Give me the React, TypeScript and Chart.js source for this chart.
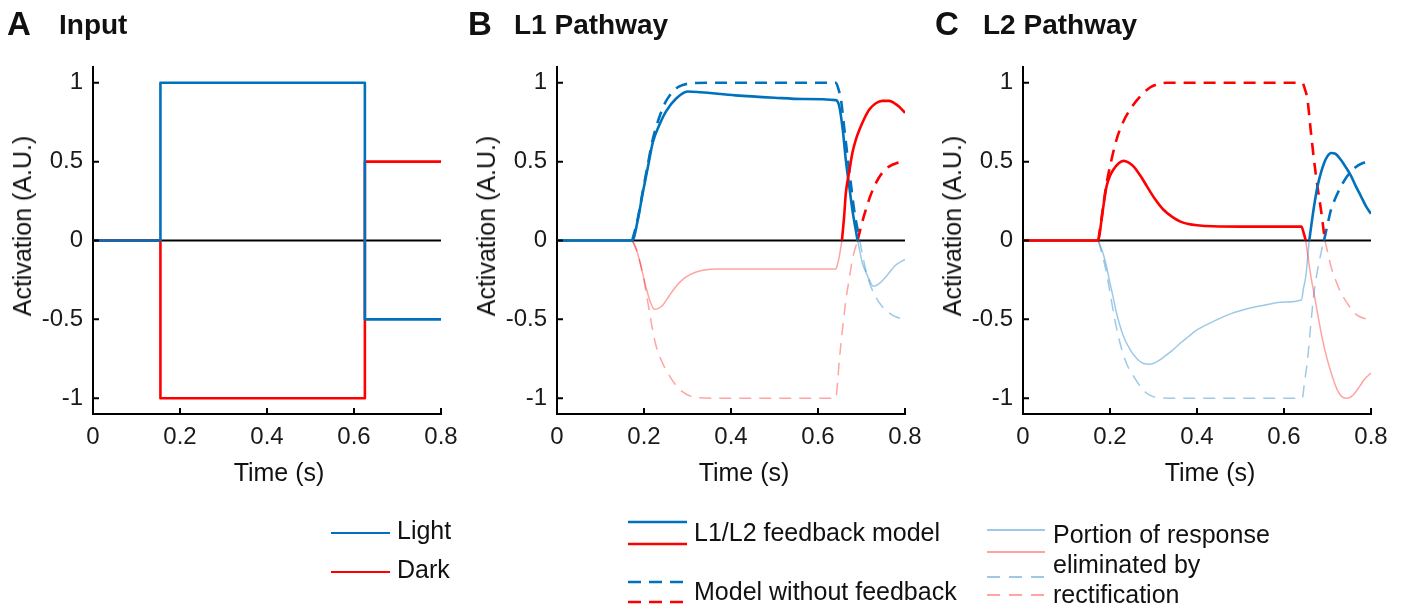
import React, { useEffect, useRef } from "react";
import { Chart, registerables } from "chart.js";

Chart.register(...registerables);

type Pt = [number, number];

// ---------- shared axes ----------
const X_TICKS = [0, 0.2, 0.4, 0.6, 0.8];
const Y_TICKS = [-1, -0.5, 0, 0.5, 1];
const X_MIN = 0;
const X_MAX = 0.8;
const Y_MIN = -1.1;
const Y_MAX = 1.1;
const ZERO_LINE: Pt[] = [[0, 0], [0.8, 0]];

// ---------- Panel A: Input ----------
const inputLight: Pt[] = [[0, 0], [0.155, 0], [0.155, 1], [0.625, 1], [0.625, -0.5], [0.8, -0.5]];
const inputDark: Pt[] = [[0, 0], [0.155, 0], [0.155, -1], [0.625, -1], [0.625, 0.5], [0.8, 0.5]];

// ---------- Panel B: L1 pathway ----------
const l1LightFb: Pt[] = [[0, 0], [0.173, 0], [0.185, 0.12], [0.197, 0.3], [0.21, 0.48], [0.22, 0.62], [0.235, 0.73], [0.251, 0.82], [0.274, 0.9], [0.3, 0.945], [0.33, 0.94], [0.41, 0.92], [0.5, 0.905], [0.565, 0.897], [0.641, 0.89], [0.649, 0.85], [0.657, 0.7], [0.664, 0.51], [0.672, 0.34], [0.679, 0.195], [0.691, 0]];
const l1LightFbCut: Pt[] = [[0.691, 0], [0.697, -0.08], [0.702, -0.144], [0.71, -0.2], [0.718, -0.25], [0.727, -0.29], [0.74, -0.275], [0.756, -0.23], [0.779, -0.155], [0.8, -0.12]];
const l1LightNoFb: Pt[] = [[0.173, 0], [0.185, 0.13], [0.197, 0.31], [0.21, 0.5], [0.22, 0.64], [0.235, 0.78], [0.25, 0.88], [0.265, 0.94], [0.28, 0.975], [0.304, 0.995], [0.35, 1], [0.641, 1], [0.647, 0.96], [0.653, 0.89], [0.66, 0.72], [0.668, 0.53], [0.676, 0.35], [0.683, 0.195], [0.696, 0]];
const l1LightNoFbCut: Pt[] = [[0.696, 0], [0.703, -0.1], [0.71, -0.19], [0.72, -0.28], [0.733, -0.36], [0.748, -0.42], [0.764, -0.46], [0.78, -0.485], [0.8, -0.5]];
const l1DarkFbCut: Pt[] = [[0.173, 0], [0.182, -0.05], [0.19, -0.13], [0.197, -0.21], [0.205, -0.3], [0.213, -0.377], [0.224, -0.436], [0.233, -0.43], [0.243, -0.41], [0.258, -0.35], [0.274, -0.29], [0.29, -0.245], [0.304, -0.22], [0.32, -0.2], [0.335, -0.188], [0.373, -0.18], [0.641, -0.18], [0.645, -0.15], [0.649, -0.1], [0.655, 0]];
const l1DarkFb: Pt[] = [[0.655, 0], [0.66, 0.15], [0.664, 0.3], [0.672, 0.44], [0.679, 0.555], [0.687, 0.64], [0.695, 0.7], [0.706, 0.77], [0.718, 0.83], [0.733, 0.87], [0.748, 0.885], [0.764, 0.885], [0.776, 0.87], [0.786, 0.85], [0.8, 0.81]];
const l1DarkNoFbCut: Pt[] = [[0.173, 0], [0.185, -0.08], [0.197, -0.21], [0.205, -0.33], [0.213, -0.46], [0.22, -0.57], [0.228, -0.67], [0.243, -0.78], [0.259, -0.86], [0.274, -0.92], [0.289, -0.96], [0.305, -0.985], [0.32, -0.995], [0.36, -1], [0.641, -1], [0.645, -0.9], [0.649, -0.76], [0.656, -0.57], [0.664, -0.38], [0.672, -0.24], [0.679, -0.12], [0.691, 0]];
const l1DarkNoFb: Pt[] = [[0.691, 0], [0.7, 0.1], [0.71, 0.195], [0.72, 0.28], [0.733, 0.364], [0.748, 0.43], [0.764, 0.47], [0.78, 0.49], [0.8, 0.5]];

// ---------- Panel C: L2 pathway ----------
const l2DarkFb: Pt[] = [[0, 0], [0.173, 0], [0.18, 0.12], [0.186, 0.24], [0.192, 0.343], [0.2, 0.41], [0.208, 0.45], [0.22, 0.49], [0.231, 0.505], [0.242, 0.495], [0.254, 0.47], [0.27, 0.41], [0.285, 0.343], [0.303, 0.265], [0.323, 0.195], [0.343, 0.15], [0.362, 0.12], [0.38, 0.105], [0.4, 0.097], [0.438, 0.09], [0.5, 0.088], [0.64, 0.088], [0.645, 0.05], [0.65, 0]];
const l2DarkFbCut: Pt[] = [[0.65, 0], [0.656, -0.12], [0.662, -0.23], [0.67, -0.35], [0.677, -0.46], [0.688, -0.62], [0.7, -0.76], [0.712, -0.87], [0.723, -0.95], [0.733, -0.99], [0.742, -1.0], [0.752, -0.995], [0.762, -0.97], [0.775, -0.92], [0.785, -0.88], [0.8, -0.84]];
const l2DarkNoFb: Pt[] = [[0.173, 0], [0.18, 0.13], [0.186, 0.25], [0.192, 0.36], [0.2, 0.47], [0.215, 0.64], [0.23, 0.75], [0.246, 0.83], [0.262, 0.89], [0.277, 0.935], [0.292, 0.97], [0.308, 0.99], [0.33, 1], [0.642, 1], [0.648, 0.96], [0.654, 0.893], [0.661, 0.71], [0.669, 0.51], [0.677, 0.34], [0.685, 0.195], [0.694, 0]];
const l2DarkNoFbCut: Pt[] = [[0.694, 0], [0.7, -0.07], [0.708, -0.165], [0.72, -0.26], [0.731, -0.334], [0.746, -0.4], [0.762, -0.46], [0.78, -0.49], [0.8, -0.5]];
const l2LightFbCut: Pt[] = [[0.173, 0], [0.18, -0.05], [0.186, -0.1], [0.192, -0.165], [0.2, -0.27], [0.208, -0.37], [0.215, -0.46], [0.23, -0.6], [0.246, -0.69], [0.262, -0.75], [0.277, -0.78], [0.292, -0.785], [0.307, -0.77], [0.323, -0.74], [0.342, -0.7], [0.362, -0.65], [0.38, -0.61], [0.4, -0.567], [0.44, -0.51], [0.477, -0.465], [0.52, -0.43], [0.554, -0.41], [0.6, -0.39], [0.64, -0.377], [0.645, -0.3], [0.65, -0.23], [0.658, 0]];
const l2LightFb: Pt[] = [[0.658, 0], [0.665, 0.14], [0.671, 0.25], [0.677, 0.343], [0.685, 0.43], [0.692, 0.49], [0.7, 0.535], [0.708, 0.555], [0.718, 0.55], [0.731, 0.51], [0.742, 0.465], [0.754, 0.41], [0.765, 0.345], [0.777, 0.28], [0.788, 0.22], [0.8, 0.17]];
const l2LightNoFbCut: Pt[] = [[0.173, 0], [0.18, -0.07], [0.19, -0.18], [0.2, -0.33], [0.211, -0.5], [0.223, -0.65], [0.238, -0.78], [0.254, -0.86], [0.27, -0.925], [0.285, -0.97], [0.3, -0.99], [0.315, -0.998], [0.34, -1], [0.642, -1], [0.647, -0.9], [0.654, -0.76], [0.661, -0.55], [0.669, -0.33], [0.677, -0.19], [0.685, -0.08], [0.692, 0]];
const l2LightNoFb: Pt[] = [[0.692, 0], [0.7, 0.1], [0.708, 0.195], [0.72, 0.28], [0.731, 0.343], [0.746, 0.41], [0.762, 0.46], [0.78, 0.49], [0.8, 0.5]];

// ---------- styles ----------
const FONT = '"Liberation Sans", Arial, Helvetica, sans-serif';
const BLUE = "#0072BD";
const RED = "#FF0000";
const LBLUE = "rgba(0,114,189,0.38)";
const LRED = "rgba(255,0,0,0.36)";
const DASH = [12, 8];
const MAIN_W = 2.6;
const THIN_W = 1.5;

type Series = { pts: Pt[]; color: string; width: number; dash?: number[]; smooth?: boolean };

const CANVAS_W = 465;
const CANVAS_H = 500;

const inwardTicks = {
  id: "inwardTicks",
  afterDraw(chart: any) {
    const { ctx, chartArea, scales } = chart;
    ctx.save();
    ctx.strokeStyle = "#000";
    ctx.lineWidth = 2;
    ctx.beginPath();
    X_TICKS.forEach((v) => {
      if (v === X_MIN) return;
      const px = scales.x.getPixelForValue(v);
      ctx.moveTo(px, chartArea.bottom);
      ctx.lineTo(px, chartArea.bottom - 6);
    });
    Y_TICKS.forEach((v) => {
      const py = scales.y.getPixelForValue(v);
      ctx.moveTo(chartArea.left, py);
      ctx.lineTo(chartArea.left + 6, py);
    });
    ctx.stroke();
    ctx.restore();
  },
};

function Panel({ left, series }: { left: number; series: Series[] }) {
  const ref = useRef<HTMLCanvasElement>(null);
  useEffect(() => {
    const tickFont = { family: FONT, size: 24 };
    const chart = new Chart(ref.current as HTMLCanvasElement, {
      type: "line",
      data: {
        datasets: series.map((s) => ({
          data: s.pts.map(([x, y]) => ({ x, y })),
          borderColor: s.color,
          borderWidth: s.width,
          borderDash: s.dash || [],
          pointRadius: 0,
          fill: false,
          tension: 0,
          cubicInterpolationMode: s.smooth ? "monotone" : "default",
          borderJoinStyle: "round",
        })),
      } as any,
      options: {
        animation: false,
        responsive: false,
        events: [],
        layout: { padding: { left: 0, right: 24, top: 67, bottom: 0 } },
        plugins: { legend: { display: false }, tooltip: { enabled: false } },
        scales: {
          x: {
            type: "linear",
            min: X_MIN,
            max: X_MAX,
            afterBuildTicks: (s: any) => {
              s.ticks = X_TICKS.map((v) => ({ value: v }));
            },
            afterFit: (s: any) => {
              s.height = 86;
              s.paddingLeft = 0;
              s.paddingRight = 0;
            },
            grid: { display: false, drawTicks: false },
            border: { display: true, color: "#000", width: 2 },
            ticks: {
              font: tickFont,
              color: "#1a1a1a",
              padding: 9,
              maxRotation: 0,
              autoSkip: false,
              callback: (v: any) => String(v),
            },
          },
          y: {
            type: "linear",
            min: Y_MIN,
            max: Y_MAX,
            afterBuildTicks: (s: any) => {
              s.ticks = Y_TICKS.map((v) => ({ value: v }));
            },
            afterFit: (s: any) => {
              s.width = 93;
              s.paddingTop = 0;
              s.paddingBottom = 0;
            },
            grid: { display: false, drawTicks: false },
            border: { display: true, color: "#000", width: 2 },
            ticks: {
              font: tickFont,
              color: "#1a1a1a",
              padding: 10,
              autoSkip: false,
              callback: (v: any) => String(v),
            },
          },
        },
      } as any,
      plugins: [inwardTicks],
    });
    return () => chart.destroy();
  }, []);
  return (
    <canvas
      ref={ref}
      width={CANVAS_W}
      height={CANVAS_H}
      style={{ position: "absolute", left, top: 0, width: CANVAS_W, height: CANVAS_H }}
    />
  );
}

const zero: Series = { pts: ZERO_LINE, color: "#000", width: 2 };

// datasets listed top-most first
const seriesA: Series[] = [
  { pts: inputLight, color: BLUE, width: MAIN_W },
  { pts: inputDark, color: RED, width: MAIN_W },
  zero,
];

const seriesB: Series[] = [
  { pts: l1DarkFb, color: RED, width: MAIN_W, smooth: true },
  { pts: l1LightFb, color: BLUE, width: MAIN_W, smooth: true },
  { pts: l1DarkNoFb, color: RED, width: MAIN_W, dash: DASH, smooth: true },
  { pts: l1LightNoFb, color: BLUE, width: MAIN_W, dash: DASH, smooth: true },
  zero,
  { pts: l1LightFbCut, color: LBLUE, width: THIN_W, smooth: true },
  { pts: l1LightNoFbCut, color: LBLUE, width: THIN_W, dash: DASH, smooth: true },
  { pts: l1DarkFbCut, color: LRED, width: THIN_W, smooth: true },
  { pts: l1DarkNoFbCut, color: LRED, width: THIN_W, dash: DASH, smooth: true },
];

const seriesC: Series[] = [
  { pts: l2DarkFb, color: RED, width: MAIN_W, smooth: true },
  { pts: l2LightFb, color: BLUE, width: MAIN_W, smooth: true },
  { pts: l2DarkNoFb, color: RED, width: MAIN_W, dash: DASH, smooth: true },
  { pts: l2LightNoFb, color: BLUE, width: MAIN_W, dash: DASH, smooth: true },
  zero,
  { pts: l2DarkFbCut, color: LRED, width: THIN_W, smooth: true },
  { pts: l2DarkNoFbCut, color: LRED, width: THIN_W, dash: DASH, smooth: true },
  { pts: l2LightFbCut, color: LBLUE, width: THIN_W, smooth: true },
  { pts: l2LightNoFbCut, color: LBLUE, width: THIN_W, dash: DASH, smooth: true },
];

const textBase: React.CSSProperties = {
  position: "absolute",
  fontFamily: FONT,
  color: "#111",
  whiteSpace: "nowrap",
};

function Txt({ x, y, size, bold, children }: { x: number; y: number; size: number; bold?: boolean; children: React.ReactNode }) {
  return (
    <div style={{ ...textBase, left: x, top: y, fontSize: size, fontWeight: bold ? 700 : 400, lineHeight: "40px" }}>
      {children}
    </div>
  );
}

function LegendText({ x, y, children }: { x: number; y: number; children: React.ReactNode }) {
  return (
    <div style={{ ...textBase, left: x, top: y, fontSize: 25, lineHeight: "30px" }}>{children}</div>
  );
}

function YTitle({ cx }: { cx: number }) {
  return (
    <div
      style={{
        ...textBase,
        left: cx,
        top: 226,
        fontSize: 25,
        lineHeight: "30px",
        transform: "translate(-50%, -50%) rotate(-90deg)",
      }}
    >
      Activation (A.U.)
    </div>
  );
}

function XTitle({ cx }: { cx: number }) {
  return (
    <div
      style={{
        ...textBase,
        left: cx,
        top: 472,
        fontSize: 25,
        lineHeight: "30px",
        transform: "translate(-50%, -50%)",
      }}
    >
      Time (s)
    </div>
  );
}

function Swatch({ x1, x2, y, color, width, dash }: { x1: number; x2: number; y: number; color: string; width: number; dash?: number[] }) {
  return (
    <line
      x1={x1}
      x2={x2}
      y1={y}
      y2={y}
      stroke={color}
      strokeWidth={width}
      strokeDasharray={dash ? dash.join(" ") : undefined}
    />
  );
}

export default function App() {
  return (
    <div
      style={{
        position: "absolute",
        left: 0,
        top: 0,
        width: 1406,
        height: 609,
        background: "#fff",
        overflow: "hidden",
      }}
    >
      <Panel left={0} series={seriesA} />
      <Panel left={464} series={seriesB} />
      <Panel left={930} series={seriesC} />

      <Txt x={7} y={4} size={33} bold>A</Txt>
      <Txt x={59} y={5} size={28} bold>Input</Txt>
      <Txt x={468} y={4} size={33} bold>B</Txt>
      <Txt x={514} y={5} size={28} bold>L1 Pathway</Txt>
      <Txt x={935} y={4} size={33} bold>C</Txt>
      <Txt x={983} y={5} size={28} bold>L2 Pathway</Txt>

      <YTitle cx={22} />
      <YTitle cx={486} />
      <YTitle cx={952} />
      <XTitle cx={279} />
      <XTitle cx={744} />
      <XTitle cx={1210} />

      <svg width={1406} height={609} style={{ position: "absolute", left: 0, top: 0 }}>
        <Swatch x1={331} x2={390} y={533} color={BLUE} width={2.2} />
        <Swatch x1={331} x2={390} y={572} color={RED} width={2.2} />
        <Swatch x1={628} x2={687} y={522} color={BLUE} width={2.6} />
        <Swatch x1={628} x2={687} y={544} color={RED} width={2.6} />
        <Swatch x1={628} x2={687} y={582} color={BLUE} width={2.6} dash={[13, 8]} />
        <Swatch x1={628} x2={687} y={602} color={RED} width={2.6} dash={[13, 8]} />
        <Swatch x1={987} x2={1045} y={530} color={LBLUE} width={1.8} />
        <Swatch x1={987} x2={1045} y={552} color={LRED} width={1.8} />
        <Swatch x1={987} x2={1045} y={577} color={LBLUE} width={1.8} dash={[13, 9]} />
        <Swatch x1={987} x2={1045} y={595} color={LRED} width={1.8} dash={[13, 9]} />
      </svg>

      <LegendText x={397} y={515}>Light</LegendText>
      <LegendText x={397} y={554}>Dark</LegendText>
      <LegendText x={694} y={517}>L1/L2 feedback model</LegendText>
      <LegendText x={694} y={576}>Model without feedback</LegendText>
      <LegendText x={1053} y={519}>Portion of response</LegendText>
      <LegendText x={1053} y={549}>eliminated by</LegendText>
      <LegendText x={1053} y={579}>rectification</LegendText>
    </div>
  );
}
